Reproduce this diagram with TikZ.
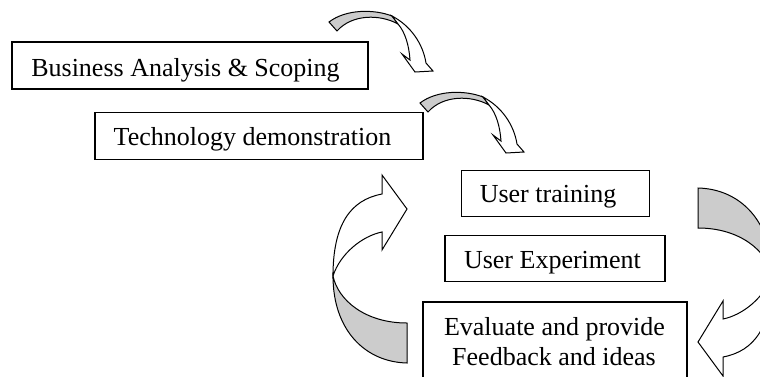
\documentclass[tikz,border=0pt]{standalone}
\usepackage{fontspec}
\setmainfont{Liberation Serif}
\definecolor{ribbongray}{RGB}{204,204,204}
\begin{document}
\begin{tikzpicture}[x=1pt,y=-1pt,
  boxnode/.style={draw=black,line width=1.1pt,rectangle,inner sep=0pt,fill=white},
  txt/.style={anchor=base,inner sep=0pt,font=\fontsize{26}{30}\selectfont},
  ribbon/.style={draw=black,line width=1pt,fill=ribbongray},
  ribbontop/.style={draw=black,line width=1pt,fill=white}]
\useasboundingbox (0,0) rectangle (760,376);
\clip (0,0) rectangle (760,376);

% ---- boxes ----
\node[boxnode,minimum width=356,minimum height=47] (b1) at (190,65.5) {};
\node[txt] (t1) at (185.5,76) {Business Analysis \& Scoping};

\node[boxnode,minimum width=328,minimum height=47] (b2) at (259,135.7) {};
\node[txt] (t2) at (252.5,145.5) {Technology demonstration};

\node[boxnode,minimum width=187.5,minimum height=46.5] (b3) at (555.5,193.4) {};
\node[txt] (t3) at (548,202.7) {User training};

\node[boxnode,minimum width=220,minimum height=46] (b4) at (555,258.7) {};
\node[txt] (t4) at (552.5,268.3) {User Experiment};

\node[boxnode,minimum width=264,minimum height=80] (b5) at (555,342) {};
\node[txt] (t5a) at (554.5,335) {Evaluate and provide};
\node[txt] (t5b) at (554,365) {Feedback and ideas};

% ---- small curved arrows ----
\foreach \dx/\dy in {0/0,91/81}{
\begin{scope}[shift={(\dx,\dy)}]
  \path[ribbon] (329,22) .. controls (346,9) and (374,9) .. (392,16)
     -- (398,24) .. controls (380,14) and (352,14) .. (337,31) -- cycle;
  \path[ribbontop] (392,16) .. controls (411,26) and (423,44) .. (426,63)
     -- (433,71) -- (415,72) -- (402,54) -- (410,60)
     .. controls (409,45) and (405,32) .. (398,24) -- cycle;
\end{scope}}

% ---- big curved arrows ----
\foreach \turn/\sx/\sy in {0/0/0,180/1105/551}{
\begin{scope}[shift={(\sx,\sy)},rotate=\turn]
  \path[ribbontop] (382,194) -- (382,175) -- (407,209) -- (382,250) -- (382,232)
     .. controls (362,236) and (340,254) .. (333,276)
     .. controls (333,225) and (350,200) .. (382,194) -- cycle;
  \path[ribbon] (333,276) .. controls (338,300) and (365,323) .. (407,323)
     -- (407,363) .. controls (365,362) and (333,330) .. (333,276) -- cycle;
\end{scope}}
\end{tikzpicture}
\end{document}
